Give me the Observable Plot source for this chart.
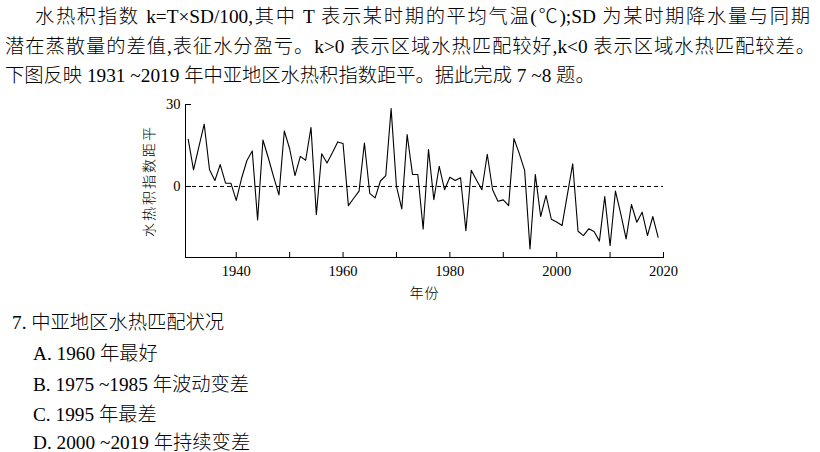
<!DOCTYPE html>
<html>
<head>
<meta charset="utf-8">
<script src="https://cdn.jsdelivr.net/npm/d3@7"></script>
<script src="https://cdn.jsdelivr.net/npm/@observablehq/plot@0.6"></script>
<style>
  html, body { margin: 0; padding: 0; background: #fff; }
  #page { position: relative; width: 820px; height: 452px; overflow: hidden; background: #fff; color: #000;
    font-family: "Liberation Serif", "Noto Sans CJK SC", serif; font-weight: 300; }
  .ln { position: absolute; white-space: nowrap; font-size: 19.3px; line-height: 20px; }
  .just { text-align: justify; text-align-last: justify; white-space: normal; }
  #chart { position: absolute; left: 0; top: 95px; }
  #chart svg { font-family: "Liberation Serif", "Noto Sans CJK SC", serif !important; }
  #chart svg text { font-family: "Liberation Serif", "Noto Sans CJK SC", serif !important; font-size: 14.5px !important; fill: #000; font-weight: 300; }
  #chart svg g[aria-label="y-axis label"] text { font-size: 14px !important; letter-spacing: 2px; }
  #chart svg g[aria-label="x-axis label"] text { font-size: 14px !important; letter-spacing: 1px; }
</style>
</head>
<body>
<div id="page">
  <div class="ln just" style="left:35px; top:7px; width:775px;">水热积指数 k=T×SD/100,其中 T 表示某时期的平均气温(℃);SD 为某时期降水量与同期</div>
  <div class="ln just" style="left:5px; top:37px; width:810px;">潜在蒸散量的差值,表征水分盈亏。k&gt;0 表示区域水热匹配较好,k&lt;0 表示区域水热匹配较差。</div>
  <div class="ln" style="left:5px; top:66px;">下图反映 1931 ~2019 年中亚地区水热积指数距平。据此完成 7 ~8 题。</div>
  <div id="chart"></div>
  <div class="ln" style="left:12px; top:313px;">7. 中亚地区水热匹配状况</div>
  <div class="ln" style="left:33px; top:344px;">A. 1960 年最好</div>
  <div class="ln" style="left:33px; top:375px;">B. 1975 ~1985 年波动变差</div>
  <div class="ln" style="left:33px; top:405px;">C. 1995 年最差</div>
  <div class="ln" style="left:33px; top:433px;">D. 2000 ~2019 年持续变差</div>
</div>
<script>
const years = [
  1931,1932,1933,1934,1935,1936,1937,1938,1939,1940,
  1941,1942,1943,1944,1945,1946,1947,1948,1949,1950,
  1951,1952,1953,1954,1955,1956,1957,1958,1959,1960,
  1961,1962,1963,1964,1965,1966,1967,1968,1969,1970,
  1971,1972,1973,1974,1975,1976,1977,1978,1979,1980,
  1981,1982,1983,1984,1985,1986,1987,1988,1989,1990,
  1991,1992,1993,1994,1995,1996,1997,1998,1999,2000,
  2001,2002,2003,2004,2005,2006,2007,2008,2009,2010,
  2011,2012,2013,2014,2015,2016,2017,2018,2019
];
const anomaly = [
  17.3, 6.1, 14.5, 22.8, 6.1, 2.2, 8.0, 1.2, 1.2, -5.1,
  3.0, 9.5, 13.0, -12.3, 17.0, 10.5, 3.5, -3.1, 20.3, 13.8,
  4.0, 11.0, 9.6, 21.6, -10.3, 12.0, 8.6, 12.3, 16.3, 15.7,
  -7.0, -4.3, -1.7, 15.9, -2.5, -4.2, 2.0, 4.0, 28.5, 0.0,
  -8.2, 19.0, 4.4, 4.4, -15.6, 13.5, -4.8, 7.4, -1.2, 3.4,
  2.2, 3.2, -16.2, 5.9, 2.3, -1.2, 11.8, -1.2, -5.4, -4.9,
  -7.0, 17.5, 12.0, 5.9, -22.9, 4.4, -11.0, -3.3, -12.0, -13.0,
  -14.3, -3.0, 8.3, -16.4, -18.0, -15.5, -16.5, -20.0, -3.7, -21.7,
  -1.7, -10.0, -19.2, -6.6, -13.1, -9.4, -18.0, -11.0, -18.6
];
const xTicks = [1940, 1950, 1960, 1970, 1980, 1990, 2000, 2010, 2020];
const xTickLabels = [1940, 1960, 1980, 2000, 2020];
const yTicks = [0, 30];
const xLabel = "年份";
const yLabel = "水热积指数距平";

const font = "'Liberation Serif', 'Noto Sans CJK SC', serif";
const chart = Plot.plot({
  width: 820,
  height: 215,
  marginLeft: 185,
  marginRight: 157,
  marginTop: 9,
  marginBottom: 53,
  style: {fontFamily: font, fontSize: "14.5px", color: "#000", background: "transparent"},
  x: {domain: [1930.5, 2020]},
  y: {domain: [-26, 30]},
  marks: [
    Plot.ruleY([0], {stroke: "#000", strokeDasharray: "4,3", strokeWidth: 1}),
    Plot.axisY({ticks: yTicks, tickSize: -6, tickPadding: 11, label: yLabel, labelAnchor: "center", labelArrow: "none", labelOffset: 41}),
    Plot.axisX({ticks: xTicks, tickSize: -5, tickPadding: 13,
      tickFormat: d => xTickLabels.includes(d) ? String(d) : "",
      label: xLabel, labelAnchor: "center", labelArrow: "none", labelOffset: 40}),
    Plot.frame({anchor: "left", stroke: "#000"}),
    Plot.frame({anchor: "bottom", stroke: "#000"}),
    Plot.lineY(years, {x: years, y: anomaly, stroke: "#000", strokeWidth: 1.1})
  ]
});
document.getElementById("chart").appendChild(chart);
</script>
</body>
</html>
